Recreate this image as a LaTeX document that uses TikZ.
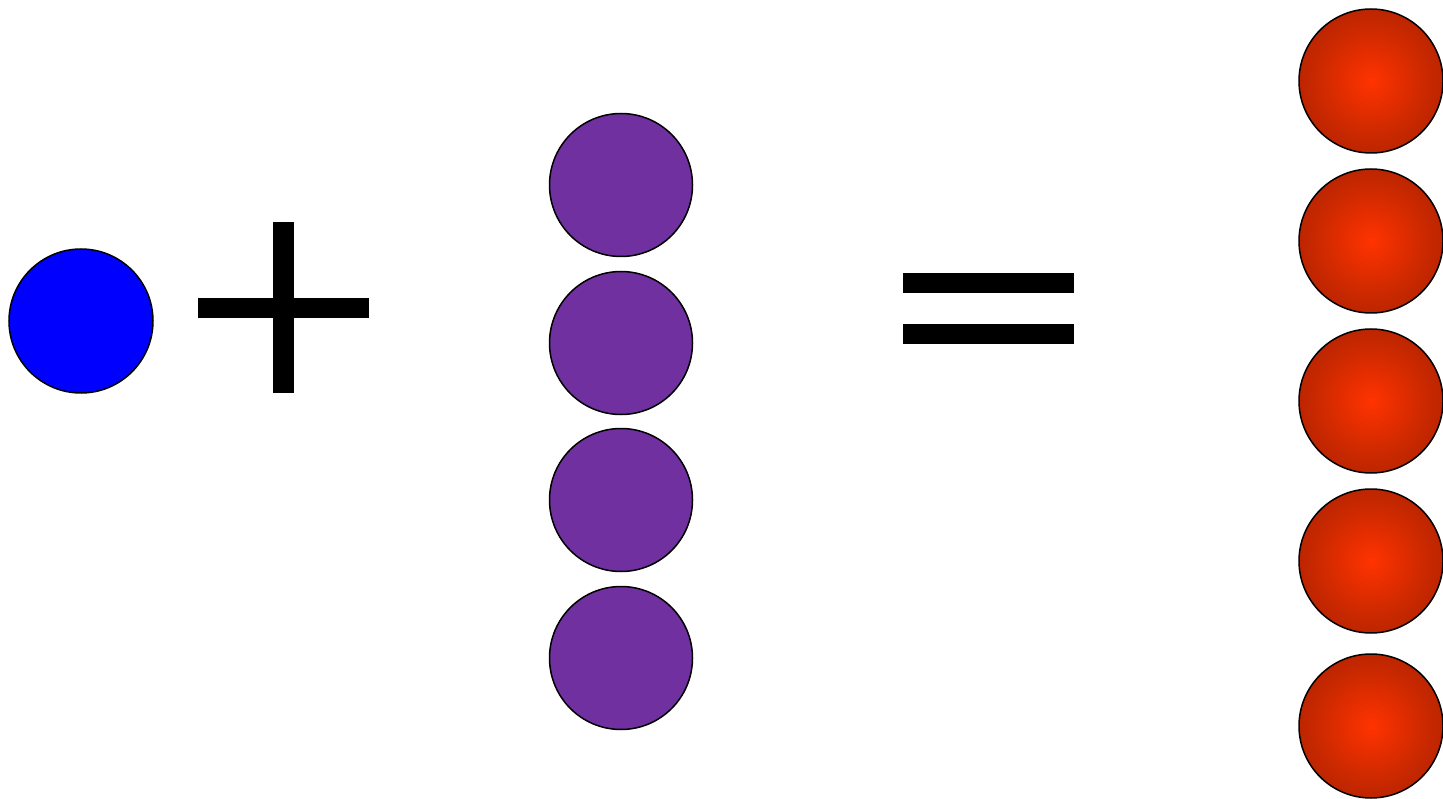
\documentclass[tikz,border=0pt]{standalone}
\usepackage{tikz}
\definecolor{blueball}{RGB}{0,0,255}
\definecolor{purpleball}{RGB}{112,48,160}
\definecolor{redin}{RGB}{255,51,0}
\definecolor{redmid}{RGB}{200,40,0}
\definecolor{redout}{RGB}{150,28,0}
\pgfdeclareradialshading{redball}{\pgfpoint{0bp}{0bp}}{color(0bp)=(redin); color(20bp)=(redmid); color(42bp)=(redout); color(72bp)=(redout)}
\begin{document}
\begin{tikzpicture}[x=1pt,y=-1pt,
  ball/.style={circle,draw=black,line width=1.5pt,minimum size=144pt,inner sep=0pt},
  bluedot/.style={ball,fill=blueball},
  purpledot/.style={ball,fill=purpleball,minimum size=143pt},
  reddot/.style={ball,shading=redball},
  bar/.style={fill=black}]
\useasboundingbox (0,0) rectangle (1443,799);
\node[bluedot] (b) at (81,321) {};
% plus sign
\fill[bar] (198,298) rectangle (369,318.5);
\fill[bar] (273.2,222.5) rectangle (293.8,392.8);
% purple column
\node[purpledot] (p1) at (621,185) {};
\node[purpledot] (p2) at (621,343) {};
\node[purpledot] (p3) at (621,500) {};
\node[purpledot] (p4) at (621,658) {};
% equals sign
\fill[bar] (903,273) rectangle (1074,293.5);
\fill[bar] (903,324) rectangle (1074,344.3);
% red column
\node[reddot] (r1) at (1371,81) {};
\node[reddot] (r2) at (1371,241) {};
\node[reddot] (r3) at (1371,401) {};
\node[reddot] (r4) at (1371,561) {};
\node[reddot] (r5) at (1371,726) {};
\end{tikzpicture}
\end{document}
